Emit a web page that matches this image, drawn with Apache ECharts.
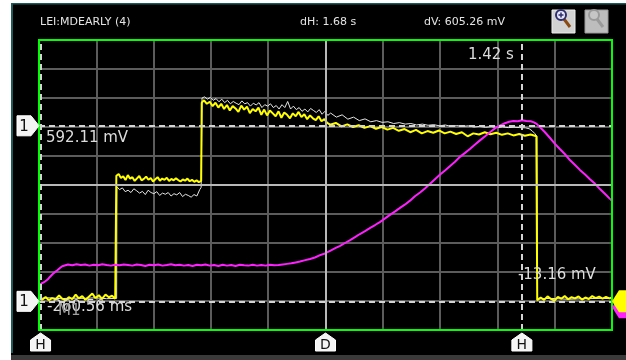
<!DOCTYPE html>
<html><head><meta charset="utf-8">
<script src="https://cdn.jsdelivr.net/npm/echarts@6/dist/echarts.min.js"></script>
<style>html,body{margin:0;padding:0;background:#000;}#c{width:626px;height:360px;}</style>
</head><body><div id="c"></div>
<script>
// ---- scope settings (physical units) ----
const T0 = -266;      // ms at left edge of screen
const TDIV = 200;     // ms per division
const V0 = -112;      // mV at bottom edge
const VDIV = 100;     // mV per division

// ---- cursor readouts ----
const titleText = 'LEI:MDEARLY (4)';
const dHText = 'dH: 1.68 s';
const dVText = 'dV: 605.26 mV';
const cursorT1 = -260.56, cursorT2 = 1419.44;   // ms
const cursorV1 = 592.11, cursorV2 = -13.16;     // mV
const cursorT1Label = '-260.56 ms';
const cursorT2Label = '1.42 s';
const cursorV1Label = '592.11 mV';
const cursorV2Label = '-13.16 mV';
const markerLabels = ['1', 'H', 'D', 'M1'];

// ---- traces [ms, mV] ----
const whiteTrace = [
[-266,-3],[-230,-1],[-190,-4],[-150,-2],[-110,-3],[-70,-1],[-30,-4],[5,-3],
[6,382],[15,372],[25,378],[35,365],[45,370],[55,362],[65,375],[75,368],[85,360],[95,366],[105,355],[115,370],[125,362],[135,358],[145,365],[155,352],[165,360],[175,356],[185,362],[195,350],[205,358],[215,354],[225,362],[235,348],[245,356],[255,352],[265,346],[275,355],[285,350],[295,372],[300,380],
[303,688],[312,692],[322,684],[332,690],[342,680],[352,686],[362,675],[372,684],[382,672],[392,680],[402,668],[412,676],[422,670],[432,665],[442,678],[452,668],[462,672],[472,660],[482,670],[492,664],[502,672],[512,655],[522,665],[532,660],[542,668],[552,655],[562,662],[572,650],[582,665],[592,655],[602,676],[612,650],[622,660],[632,648],[642,655],[652,642],[662,650],[672,640],[682,652],[692,645],[702,638],[712,648],[722,632],[732,642],[742,628],[752,636],[772,622],[792,630],[812,615],[832,622],[852,610],[872,616],[892,606],[912,610],[932,604],[952,606],[972,600],[992,603],[1012,598],[1032,600],[1052,595],[1072,598],[1092,594],[1112,596],[1132,592],[1152,595],[1172,590],[1192,593],[1212,590],[1232,592],[1252,588],[1272,590],[1292,587],[1312,589],[1332,586],[1352,588],[1372,586],[1392,587],[1412,586],[1432,585],[1445,582],[1455,575],[1465,565],[1472,555],
[1474,-5],[1520,-3],[1580,-6],[1640,-4],[1700,-3],[1734,-4]
];

const yellowTrace = [
[-266,-4],[-255,-8],[-243,2],[-232,-9],[-220,-2],[-208,-6],[-196,7],[-185,-4],[-173,-10],[-162,1],[-150,-6],[-138,10],[-127,-3],[-115,5],[-104,-8],[-92,3],[-80,14],[-69,-2],[-57,8],[-46,-5],[-34,10],[-22,1],[-11,6],[0,-4],[3,-4],
[4,420],[12,426],[20,412],[28,418],[36,405],[44,422],[52,410],[60,415],[68,402],[76,411],[84,419],[92,404],[100,409],[108,417],[116,406],[124,412],[132,400],[140,408],[148,415],[156,403],[164,410],[172,406],[180,413],[188,402],[196,409],[204,404],[212,411],[220,405],[228,400],[236,407],[244,403],[252,410],[260,401],[268,406],[276,399],[284,404],[292,398],[300,402],
[302,672],[310,680],[320,668],[330,675],[340,660],[350,672],[360,655],[370,668],[380,650],[390,664],[400,645],[410,660],[420,652],[430,640],[440,662],[450,648],[460,658],[470,636],[480,650],[490,642],[500,655],[510,630],[520,648],[530,628],[540,645],[550,635],[560,625],[570,642],[580,620],[590,638],[600,630],[610,618],[620,635],[630,625],[640,640],[650,622],[660,632],[670,615],[680,628],[690,618],[700,612],[710,625],[720,608],[730,615],[740,602],[750,596],[770,602],[790,590],[810,597],[830,588],[850,594],[870,585],[890,591],[910,582],[930,588],[950,579],[970,585],[990,575],[1010,581],[1030,570],[1050,578],[1070,566],[1090,574],[1110,568],[1130,576],[1150,566],[1170,572],[1190,564],[1210,570],[1230,556],[1250,566],[1270,562],[1290,570],[1310,563],[1330,568],[1350,561],[1370,566],[1390,559],[1410,564],[1430,558],[1450,562],[1470,556],[1472,556],
[1473,-9],[1485,0],[1497,-8],[1509,4],[1521,-5],[1533,-11],[1545,2],[1557,-4],[1569,5],[1581,-6],[1593,1],[1605,-3],[1617,4],[1629,-7],[1641,0],[1653,-5],[1665,5],[1677,-2],[1689,3],[1701,-4],[1713,2],[1725,-3],[1734,0]
];

const magentaTrace = [
[-266,43],[-255,50],[-245,55],[-236,62],[-228,71],[-219,80],[-210,88],[-201,95],[-193,102],[-185,108],[-179,112],[-165,114],[-150,111],[-135,115],[-120,112],[-105,114],[-90,110],[-75,113],[-60,111],[-45,115],[-30,112],[-15,110],[0,113],[15,111],[30,114],[45,112],[60,110],[75,114],[90,112],[105,109],[120,113],[135,111],[150,114],[165,110],[180,112],[195,115],[210,111],[225,113],[240,110],[255,112],[270,109],[285,113],[300,111],[315,114],[330,110],[345,112],[360,109],[375,113],[390,110],[405,112],[420,109],[435,113],[450,111],[465,110],[480,113],[495,110],[510,112],[525,110],[540,113],[555,111],[570,112],[585,114],[600,116],[615,118],[630,121],[645,124],[660,128],[680,133],[697,138],[715,146],[732,152],[750,161],[768,170],[785,178],[802,188],[820,198],[837,208],[854,219],[872,229],[890,240],[907,250],[925,261],[942,273],[959,285],[977,297],[994,309],[1012,321],[1029,334],[1046,349],[1064,362],[1081,376],[1099,392],[1116,408],[1133,423],[1151,438],[1168,453],[1186,468],[1203,485],[1220,498],[1238,512],[1255,527],[1272,541],[1290,555],[1307,569],[1325,583],[1342,593],[1360,601],[1375,606],[1390,609],[1405,608],[1420,611],[1435,609],[1450,608],[1462,604],[1472,598],[1482,588],[1500,570],[1517,551],[1535,530],[1552,512],[1570,494],[1587,474],[1605,457],[1622,440],[1640,424],[1657,408],[1675,392],[1692,374],[1710,357],[1727,340],[1734,333]
];

const toX = t => (t - T0) / TDIV;
const toY = v => (v - V0) / VDIV;
const conv = arr => arr.map(p => [toX(p[0]), toY(p[1])]);

const FONT = 'DejaVu Sans';
const chart = echarts.init(document.getElementById('c'), null, {renderer: 'canvas'});

const axisCommon = {
  type: 'value', min: 0, max: 10, interval: 1,
  axisLine: {show: false}, axisTick: {show: false}, axisLabel: {show: false},
  splitLine: {show: true, showMinLine: false, showMaxLine: false, lineStyle: {color: '#5c5c5c', width: 2}}
};

chart.setOption({
  backgroundColor: '#000',
  animation: false,
  grid: {left: 39, top: 40, width: 573, height: 290, show: false},
  xAxis: axisCommon,
  yAxis: axisCommon,
  series: [
    {type: 'line', data: [], z: 1, silent: true,
     markLine: {silent: true, symbol: ['none','none'], label: {show: false},
       lineStyle: {color: '#b8b8b8', width: 2, type: 'solid'},
       data: [{xAxis: 5}, {yAxis: 5}]}},
    {type: 'line', data: conv(whiteTrace), z: 2, showSymbol: false, silent: true,
     lineStyle: {color: '#e6e6e6', width: 1}},
    {type: 'line', data: conv(yellowTrace), z: 3, showSymbol: false, silent: true,
     lineStyle: {color: '#ffff00', width: 2}},
    {type: 'line', data: conv(magentaTrace), z: 4, showSymbol: false, silent: true,
     lineStyle: {color: '#ff20ff', width: 2}},
    {type: 'line', data: [], z: 6, silent: true,
     markLine: {silent: true, symbol: ['none','none'], label: {show: false},
       lineStyle: {color: '#d4d4d4', width: 2, type: [6, 4]},
       data: [{xAxis: toX(cursorT1)}, {xAxis: toX(cursorT2)}, {yAxis: toY(cursorV1)}, {yAxis: toY(cursorV2)}]}}
  ]
});

const px = (t, v) => chart.convertToPixel({gridIndex: 0}, [toX(t), toY(v)]);
const xT1 = px(cursorT1, 0)[0], xT2 = px(cursorT2, 0)[0];
const yV1 = px(0, cursorV1)[1], yV2 = px(0, cursorV2)[1];
const xC = px(T0 + 5 * TDIV, 0)[0];
const gl = 39, gt = 40, gr = 612, gb = 330;

function txt(x, y, s, size, color, align, extra) {
  return Object.assign({type: 'text', z: 50, style: {x: x, y: y, text: s, fill: color,
    font: size + 'px "' + FONT + '"', textAlign: align || 'left', textVerticalAlign: 'middle'}}, extra || {});
}
function bottomTag(cx, label) {
  return [
    {type: 'polygon', z: 50, shape: {points: [[cx, 333], [cx + 10, 340], [cx + 10, 351], [cx - 10, 351], [cx - 10, 340]]},
     style: {fill: '#f4f4f4', stroke: '#ffffff', lineWidth: 1}},
    txt(cx, 345, label, 14, '#111', 'center')
  ];
}
function leftTag(cy, label) {
  return [
    {type: 'polygon', z: 50, shape: {points: [[17, cy - 10], [31, cy - 10], [39, cy], [31, cy + 10], [17, cy + 10]]},
     style: {fill: '#f4f4f4', stroke: '#ffffff', lineWidth: 1}},
    txt(24, cy + 1, label, 15, '#111', 'center')
  ];
}
function zoomBtn(x, enabled) {
  const g = [
    {type: 'rect', z: 50, shape: {x: x, y: 10, width: 23, height: 23},
     style: {fill: enabled ? '#d2d2d2' : '#bdbdbd', stroke: enabled ? '#eeeeee' : '#9a9a9a', lineWidth: 1}},
    {type: 'line', z: 51, shape: {x1: x + 12, y1: 19, x2: x + 18, y2: 27},
     style: {stroke: enabled ? '#8a4b12' : '#9a9a9a', lineWidth: 3}},
    {type: 'circle', z: 52, shape: {cx: x + 9, cy: 15, r: 5},
     style: {fill: enabled ? '#e6e6f4' : '#c6c6c6', stroke: enabled ? '#2e2e6e' : '#9a9a9a', lineWidth: 2}}
  ];
  if (enabled) {
    g.push({type: 'line', z: 53, shape: {x1: x + 6.5, y1: 15, x2: x + 11.5, y2: 15}, style: {stroke: '#2e2e6e', lineWidth: 1.5}});
    g.push({type: 'line', z: 53, shape: {x1: x + 9, y1: 12.5, x2: x + 9, y2: 17.5}, style: {stroke: '#2e2e6e', lineWidth: 1.5}});
  }
  return g;
}

const graphics = [
  // window frame
  {type: 'rect', z: 40, shape: {x: 0, y: 0, width: 11, height: 360}, style: {fill: '#ffffff'}},
  {type: 'rect', z: 40, shape: {x: 0, y: 0, width: 626, height: 3}, style: {fill: '#ffffff'}},
  {type: 'rect', z: 41, shape: {x: 11, y: 3, width: 2, height: 350}, style: {fill: '#1f5a5a'}},
  {type: 'rect', z: 41, shape: {x: 11, y: 3, width: 615, height: 1.5}, style: {fill: '#1f5a5a'}},
  {type: 'rect', z: 41, shape: {x: 11, y: 355, width: 615, height: 5}, style: {fill: '#3a3a3a'}},
  // green screen border
  {type: 'rect', z: 45, shape: {x: gl, y: gt, width: gr - gl, height: gb - gt},
   style: {fill: 'none', stroke: '#00ff00', lineWidth: 2}},
  // header texts
  txt(40, 22, titleText, 11, '#e4e4e4'),
  txt(300, 22, dHText, 11, '#e4e4e4'),
  txt(424, 22, dVText, 11, '#e4e4e4'),
  // cursor labels
  txt(xT2 - 8, 55, cursorT2Label, 15, '#dcdcdc', 'right'),
  txt(46, yV1 + 12, cursorV1Label, 15, '#dcdcdc'),
  txt(47, yV2 + 6, cursorT1Label, 15, '#dcdcdc'),
  txt(58, yV2 + 10, markerLabels[3], 15, '#a0a0a0'),
  txt(xT2 - 4, yV2 - 26, cursorV2Label, 15, '#dcdcdc'),
  // right channel markers
  {type: 'polygon', z: 50, shape: {points: [[612, yV2 + 6], [619, yV2 - 4], [626, yV2 - 4], [626, yV2 + 17], [619, yV2 + 17]]},
   style: {fill: '#ff20ff'}},
  {type: 'polygon', z: 51, shape: {points: [[612, yV2], [619, yV2 - 11], [626, yV2 - 11], [626, yV2 + 11], [619, yV2 + 11]]},
   style: {fill: '#ffff00'}},
  txt(623, yV2, '1', 13, '#333', 'center')
].concat(leftTag(yV1, markerLabels[0]), leftTag(yV2, markerLabels[0]),
         bottomTag(xT1, markerLabels[1]), bottomTag(xC, markerLabels[2]), bottomTag(xT2, markerLabels[1]),
         zoomBtn(552, true), zoomBtn(585, false));

chart.setOption({graphic: graphics});
</script></body></html>
